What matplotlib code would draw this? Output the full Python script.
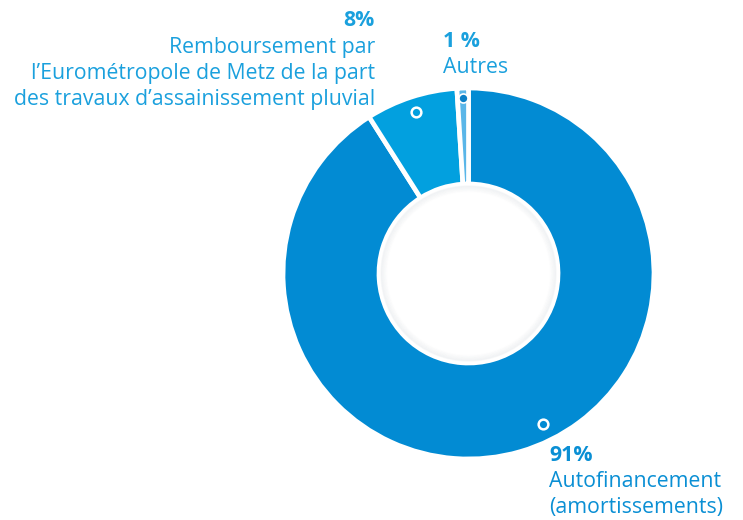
import numpy as np
import matplotlib
matplotlib.use("Agg")
import matplotlib.pyplot as plt
from matplotlib.patches import Circle

# ---- data ----
categories = ["Autofinancement\n(amortissements)",
              "Remboursement par\nl\u2019Eurométropole de Metz de la part\ndes travaux d\u2019assainissement pluvial",
              "Autres"]
values = [91, 8, 1]
pct_labels = ["91%", "8%", "1 %"]
colors = ["#028bd3", "#02a0df", "#5ab6e8"]
text_colors = ["#0a8fd4", "#1aa0dd", "#1aa0dd"]

W, H = 743, 520
fig = plt.figure(figsize=(W / 100, H / 100), dpi=100)
ax = fig.add_axes([0, 0, 1, 1])

cx, cy = 468.5, H - 273.5
R, r_in = 185.5, 89.5

ax.pie(values, colors=colors, startangle=90, counterclock=False,
       center=(cx, cy), radius=R, frame=True,
       wedgeprops=dict(width=R - r_in, edgecolor="white", linewidth=3.4))
ax.set_xlim(0, W)
ax.set_ylim(0, H)
ax.set_aspect("equal")
ax.axis("off")

# inner soft shadow
for i, a in enumerate(np.linspace(0.07, 0.0, 10)):
    ax.add_patch(Circle((cx, cy), r_in - 2 - i * 0.7, facecolor="none",
                        edgecolor="#9aa8b6", alpha=a, linewidth=1.0, zorder=3))

# markers
fr = np.array(values) / sum(values)
starts = 90 - 360 * np.concatenate([[0], np.cumsum(fr)[:-1]])
mids = starts - 180 * fr
marker_angles = [-63.6, mids[1], mids[2]]
marker_radii = [168, 170, 176]
marker_faces = ["none", "none", "#0a7fc6"]
for ang, rr, fc in zip(marker_angles, marker_radii, marker_faces):
    x = cx + rr * np.cos(np.radians(ang))
    y = cy + rr * np.sin(np.radians(ang))
    if fc == "none":
        ax.plot(x, y, "o", ms=7, mfc="none", mec="white", mew=1.8, zorder=5)
    else:
        ax.plot(x, y, "o", ms=6.5, mfc=fc, mec="white", mew=1.2, zorder=5)

fam = ["Open Sans", "DejaVu Sans"]
fs = 15.3
fsb = 15.3
lh = 26

# 8% label (right aligned)
ax.text(375, H - 26, pct_labels[1], ha="right", va="baseline", fontsize=fsb,
        fontweight="bold", color=text_colors[1], family=fam)
for i, line in enumerate(categories[1].split("\n")):
    ax.text(375, H - (53 + i * lh), line, ha="right", va="baseline", fontsize=fs,
            color=text_colors[1], family=fam)

# 1% label
ax.text(443, H - 47, pct_labels[2], ha="left", va="baseline", fontsize=fsb,
        fontweight="bold", color=text_colors[2], family=fam)
ax.text(443, H - 73, categories[2], ha="left", va="baseline", fontsize=fs,
        color=text_colors[2], family=fam)

# 91% label
ax.text(549, H - 461, pct_labels[0], ha="left", va="baseline", fontsize=fsb,
        fontweight="bold", color=text_colors[0], family=fam)
for i, line in enumerate(categories[0].split("\n")):
    ax.text(549, H - (487 + i * lh), line, ha="left", va="baseline", fontsize=fs,
            color=text_colors[0], family=fam)

fig.savefig("out.png", dpi=100)
